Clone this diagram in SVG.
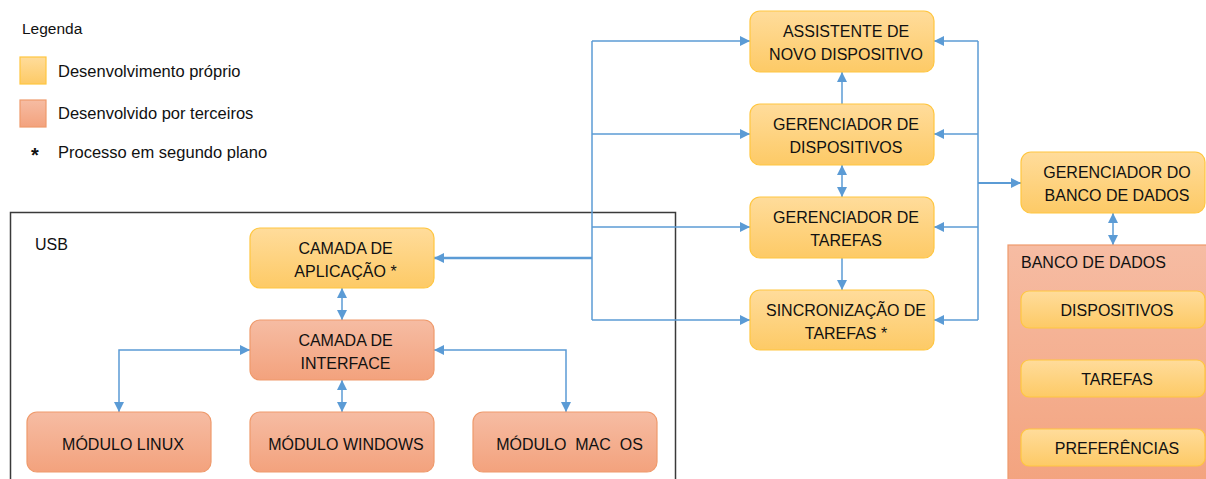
<svg xmlns="http://www.w3.org/2000/svg" width="1206" height="479" viewBox="0 0 1206 479">
<defs>
<linearGradient id="gy" x1="0" y1="0" x2="0" y2="1">
<stop offset="0" stop-color="#FFDC9B"/>
<stop offset="1" stop-color="#FDCA66"/>
</linearGradient>
<linearGradient id="go" x1="0" y1="0" x2="0" y2="1">
<stop offset="0" stop-color="#F6BCA3"/>
<stop offset="1" stop-color="#F3A27D"/>
</linearGradient>
<marker id="ah" viewBox="0 0 10 10" refX="10" refY="5" markerWidth="10" markerHeight="10" markerUnits="userSpaceOnUse" orient="auto-start-reverse">
<path d="M0,0 L10,5 L0,10 z" fill="#5B9BD5"/>
</marker>
<style>
text{font-family:"Liberation Sans",Arial,sans-serif;fill:#111111}
.bt{font-size:16px;text-anchor:middle}
.lg{font-size:16.5px}
.y{fill:url(#gy);stroke:#FFC640;stroke-width:1.2}
.o{fill:url(#go);stroke:#EF9A6C;stroke-width:1.2}
.c{fill:none;stroke:#5B9BD5;stroke-width:1.5}
</style>
</defs>
<rect width="1206" height="479" fill="#ffffff"/>

<g id="legend">
<text x="22" y="34" style="font-size:15.5px">Legenda</text>
<rect x="20" y="57" width="26" height="27" class="y"/>
<text x="58" y="77" class="lg">Desenvolvimento próprio</text>
<rect x="20" y="100" width="26" height="27" class="o"/>
<text x="58" y="119" class="lg">Desenvolvido por terceiros</text>
<text x="35" y="162" style="font-size:20px;font-weight:bold;text-anchor:middle">*</text>
<text x="58" y="158" class="lg">Processo em segundo plano</text>
</g>

<g id="usb">
<rect x="10.5" y="212.5" width="665" height="300" fill="none" stroke="#3a3a3a" stroke-width="1.5"/>
<text x="35" y="250" style="font-size:16px">USB</text>
</g>

<g id="connectors">
<path class="c" d="M592,41 V320"/>
<path class="c" d="M592,41 H750" marker-end="url(#ah)"/>
<path class="c" d="M592,134 H750" marker-end="url(#ah)"/>
<path class="c" d="M592,227 H750" marker-end="url(#ah)"/>
<path class="c" d="M592,320 H750" marker-end="url(#ah)"/>
<path class="c" d="M592,258 H434" style="stroke-width:2.5" marker-end="url(#ah)"/>
<path class="c" d="M978,41 V320"/>
<path class="c" d="M978,41 H934" marker-end="url(#ah)"/>
<path class="c" d="M978,134 H934" marker-end="url(#ah)"/>
<path class="c" d="M978,227 H934" marker-end="url(#ah)"/>
<path class="c" d="M978,320 H934" marker-end="url(#ah)"/>
<path class="c" d="M978,183 H1021" style="stroke-width:2" marker-end="url(#ah)"/>
<path class="c" d="M842,104 V72" marker-end="url(#ah)"/>
<path class="c" d="M842,165 V197" marker-start="url(#ah)" marker-end="url(#ah)"/>
<path class="c" d="M842,258 V290" marker-end="url(#ah)"/>
<path class="c" d="M1113,213 V245" marker-start="url(#ah)" marker-end="url(#ah)"/>
<path class="c" d="M342,288 V320" marker-start="url(#ah)" marker-end="url(#ah)"/>
<path class="c" d="M342,380 V412" marker-start="url(#ah)" marker-end="url(#ah)"/>
<path class="c" d="M250,350 H119 V412" marker-start="url(#ah)" marker-end="url(#ah)"/>
<path class="c" d="M434,350 H566 V412" marker-start="url(#ah)" marker-end="url(#ah)"/>
</g>

<g id="camada-aplicacao">
<rect x="250" y="228" width="184" height="60" rx="10" class="y"/>
<text x="345.5" y="254" class="bt">CAMADA DE</text>
<text x="345.5" y="277" class="bt">APLICAÇÃO *</text>
</g>
<g id="camada-interface">
<rect x="250" y="320" width="184" height="60" rx="10" class="o"/>
<text x="345.5" y="346" class="bt">CAMADA DE</text>
<text x="345.5" y="369" class="bt">INTERFACE</text>
</g>
<g id="modulo-linux">
<rect x="27" y="412" width="184" height="60" rx="10" class="o"/>
<text x="123" y="450" class="bt">MÓDULO LINUX</text>
</g>
<g id="modulo-windows">
<rect x="250" y="412" width="184" height="60" rx="10" class="o"/>
<text x="346" y="450" class="bt">MÓDULO WINDOWS</text>
</g>
<g id="modulo-macos">
<rect x="473" y="412" width="184" height="60" rx="10" class="o"/>
<text x="569.5" y="450" class="bt" xml:space="preserve">MÓDULO  MAC  OS</text>
</g>

<g id="assistente">
<rect x="750" y="11" width="184" height="61" rx="10" class="y"/>
<text x="846" y="37" class="bt">ASSISTENTE DE</text>
<text x="846" y="60" class="bt">NOVO DISPOSITIVO</text>
</g>
<g id="gerenciador-dispositivos">
<rect x="750" y="104" width="184" height="61" rx="10" class="y"/>
<text x="846" y="130" class="bt">GERENCIADOR DE</text>
<text x="846" y="153" class="bt">DISPOSITIVOS</text>
</g>
<g id="gerenciador-tarefas">
<rect x="750" y="197" width="184" height="61" rx="10" class="y"/>
<text x="846" y="223" class="bt">GERENCIADOR DE</text>
<text x="846" y="246" class="bt">TAREFAS</text>
</g>
<g id="sincronizacao">
<rect x="750" y="290" width="184" height="60" rx="10" class="y"/>
<text x="846" y="316" class="bt">SINCRONIZAÇÃO DE</text>
<text x="846" y="339" class="bt">TAREFAS *</text>
</g>
<g id="gerenciador-banco">
<rect x="1021" y="152" width="184" height="61" rx="10" class="y"/>
<text x="1117" y="178" class="bt">GERENCIADOR DO</text>
<text x="1117" y="201" class="bt">BANCO DE DADOS</text>
</g>

<g id="banco-de-dados">
<rect x="1008" y="245" width="210" height="250" class="o"/>
<text x="1021" y="268" style="font-size:16px">BANCO DE DADOS</text>
</g>
<g id="db-dispositivos">
<rect x="1021" y="291" width="184" height="37" rx="8" class="y"/>
<text x="1117" y="316" class="bt">DISPOSITIVOS</text>
</g>
<g id="db-tarefas">
<rect x="1021" y="360" width="184" height="37" rx="8" class="y"/>
<text x="1117" y="385" class="bt">TAREFAS</text>
</g>
<g id="db-preferencias">
<rect x="1021" y="429" width="184" height="37" rx="8" class="y"/>
<text x="1117" y="454" class="bt">PREFERÊNCIAS</text>
</g>
</svg>
